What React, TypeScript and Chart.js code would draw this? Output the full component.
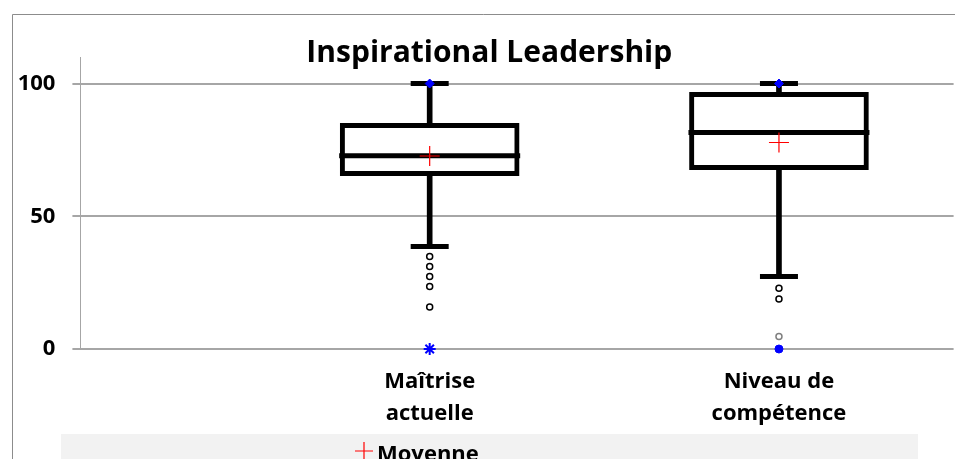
import React, { useEffect, useRef } from 'react';
import { Chart, registerables } from 'chart.js';

Chart.register(...registerables);

const categories = [['Maîtrise', 'actuelle'], ['Niveau de', 'compétence', 'requis']];
const categoryPositions = [1, 2];
const q1Values = [65.3, 67.6];
const q3Values = [85.0, 96.7];
const medianValues = [72.8, 81.6];
const meanValues = [72.7, 77.8];
const lowerWhiskers = [38.6, 27.3];
const upperWhiskers = [100, 100];
const minValues = [0, 0];
const maxValues = [100, 100];
const outliersA = [34.8, 31.1, 27.3, 23.5, 15.8];
const outliersB = [22.9, 18.8, 4.7];
const yTickValues = [0, 50, 100];
const titleText = 'Inspirational Leadership';
const meanLabel = 'Moyenne';

const FONT = "'Open Sans', 'Noto Sans', 'Liberation Sans', Arial, sans-serif";

const framePlugin = {
  id: 'frame',
  afterLayout(chart: any) {
    // let the y tick labels extend left of the scale box without clipping
    if (chart.scales.y) chart.scales.y.left = 0;
  },
  beforeDraw(chart: any) {
    const ctx = chart.ctx;
    ctx.save();
    ctx.fillStyle = '#ffffff';
    ctx.fillRect(0, 0, chart.width, chart.height);
    ctx.strokeStyle = '#8c8c8c';
    ctx.lineWidth = 1;
    ctx.beginPath();
    ctx.moveTo(12.5, chart.height);
    ctx.lineTo(12.5, 14.5);
    ctx.lineTo(chart.width, 14.5);
    ctx.stroke();
    ctx.restore();
  },
};

const legendPlugin = {
  id: 'meanLegend',
  afterDraw(chart: any) {
    const ctx = chart.ctx;
    ctx.save();
    ctx.fillStyle = '#f2f2f2';
    ctx.fillRect(61, 434, 857, 30);
    ctx.strokeStyle = '#ff0000';
    ctx.lineWidth = 1.2;
    ctx.beginPath();
    ctx.moveTo(355, 451);
    ctx.lineTo(373, 451);
    ctx.moveTo(364, 442);
    ctx.lineTo(364, 460);
    ctx.stroke();
    ctx.fillStyle = '#000000';
    ctx.font = `bold 22px ${FONT}`;
    ctx.textBaseline = 'alphabetic';
    ctx.textAlign = 'left';
    ctx.fillText(meanLabel, 377, 461);
    ctx.restore();
  },
};

export default function App() {
  const canvasRef = useRef<HTMLCanvasElement | null>(null);

  useEffect(() => {
    const canvas = canvasRef.current;
    if (!canvas) return;
    const pts = (vals: number[]) => vals.map((v, i) => ({ x: categoryPositions[i], y: v }));
    const chart = new Chart(canvas, {
      type: 'bar',
      data: {
        datasets: [
          {
            type: 'bar',
            label: 'whiskers',
            data: categoryPositions.map((x, i) => ({ x, y: [lowerWhiskers[i], upperWhiskers[i]] })) as any,
            backgroundColor: '#000000',
            borderWidth: 0,
            barThickness: 5,
            grouped: false,
            order: 10,
          } as any,
          {
            type: 'bar',
            label: 'box',
            data: categoryPositions.map((x, i) => ({ x, y: [q1Values[i], q3Values[i]] })) as any,
            backgroundColor: '#ffffff',
            borderColor: '#000000',
            borderWidth: 5,
            borderSkipped: false,
            barThickness: 179,
            grouped: false,
            order: 9,
          } as any,
          {
            type: 'scatter',
            label: 'median',
            data: pts(medianValues),
            pointStyle: 'line',
            radius: 90.5,
            borderColor: '#000000',
            borderWidth: 5,
            clip: false,
            order: 8,
          } as any,
          {
            type: 'scatter',
            label: 'caps',
            data: [...pts(lowerWhiskers), ...pts(upperWhiskers)],
            pointStyle: 'line',
            radius: 19,
            borderColor: '#000000',
            borderWidth: 5,
            clip: false,
            order: 8,
          } as any,
          {
            type: 'scatter',
            label: 'outliers',
            data: [
              ...outliersA.map((y) => ({ x: categoryPositions[0], y })),
              ...outliersB.map((y) => ({ x: categoryPositions[1], y })),
            ],
            pointStyle: 'circle',
            radius: 3,
            borderColor: [...outliersA.map(() => '#000000'), '#000000', '#000000', '#7f7f7f'],
            backgroundColor: '#ffffff',
            borderWidth: 1.5,
            clip: false,
            order: 7,
          } as any,
          {
            type: 'scatter',
            label: meanLabel,
            data: pts(meanValues),
            pointStyle: 'cross',
            radius: 10,
            borderColor: '#ff0000',
            backgroundColor: '#ff0000',
            borderWidth: 1.2,
            clip: false,
            order: 6,
          } as any,
          {
            type: 'scatter',
            label: 'minimum',
            data: pts(minValues),
            pointStyle: ['star', 'circle'],
            radius: [6, 4],
            borderColor: '#0000ff',
            backgroundColor: '#0000ff',
            borderWidth: [2, 1],
            clip: false,
            order: 5,
          } as any,
          {
            type: 'scatter',
            label: 'maximum',
            data: pts(maxValues),
            pointStyle: 'rectRot',
            radius: 4.5,
            borderColor: '#0000ff',
            backgroundColor: '#0000ff',
            borderWidth: 1,
            clip: false,
            order: 5,
          } as any,
        ],
      },
      options: {
        animation: false,
        responsive: false,
        events: [],
        layout: { autoPadding: false, padding: { top: 0, left: 25, right: 1.4, bottom: 0 } },
        plugins: {
          legend: { display: false },
          tooltip: { enabled: false },
          title: {
            display: true,
            text: titleText,
            color: '#000000',
            font: { family: FONT, size: 30, weight: 'bold', lineHeight: 1.2 },
            padding: { top: 35.4, bottom: -14.4 },
          },
        },
        scales: {
          x: {
            type: 'linear',
            offset: false,
            grace: 0,
            bounds: 'ticks',
            min: 0,
            max: 2.5,
            afterBuildTicks: (s: any) => {
              s.ticks = categoryPositions.map((v) => ({ value: v }));
            },
            afterFit: (s: any) => {
              s.height = 110;
            },
            grid: { display: false, drawTicks: false, offset: false },
            border: { display: false },
            ticks: {
              color: '#000000',
              autoSkip: false,
              maxRotation: 0,
              padding: 17,
              font: { family: FONT, size: 22, weight: 'bold', lineHeight: 1.45 },
              callback: (v: any) => {
                const i = categoryPositions.indexOf(Number(v));
                return i >= 0 ? categories[i] : '';
              },
            },
          },
          y: {
            min: 0,
            max: 110,
            afterBuildTicks: (s: any) => {
              s.ticks = yTickValues.map((v) => ({ value: v }));
            },
            afterFit: (s: any) => {
              s.width = 55.4;
            },
            grid: { color: '#a6a6a6', lineWidth: 2, tickLength: 8, tickColor: '#a6a6a6', tickWidth: 2 },
            border: { color: '#a6a6a6', width: 1 },
            ticks: {
              color: '#000000',
              padding: 17,
              font: { family: FONT, size: 22, weight: 'bold' },
            },
          },
        },
      } as any,
      plugins: [framePlugin, legendPlugin],
    });

    return () => chart.destroy();
  }, []);

  return (
    <div style={{ position: 'fixed', left: 0, top: 0, width: 955, height: 459 }}>
      <canvas ref={canvasRef} width={955} height={459} style={{ display: 'block' }} />
    </div>
  );
}
